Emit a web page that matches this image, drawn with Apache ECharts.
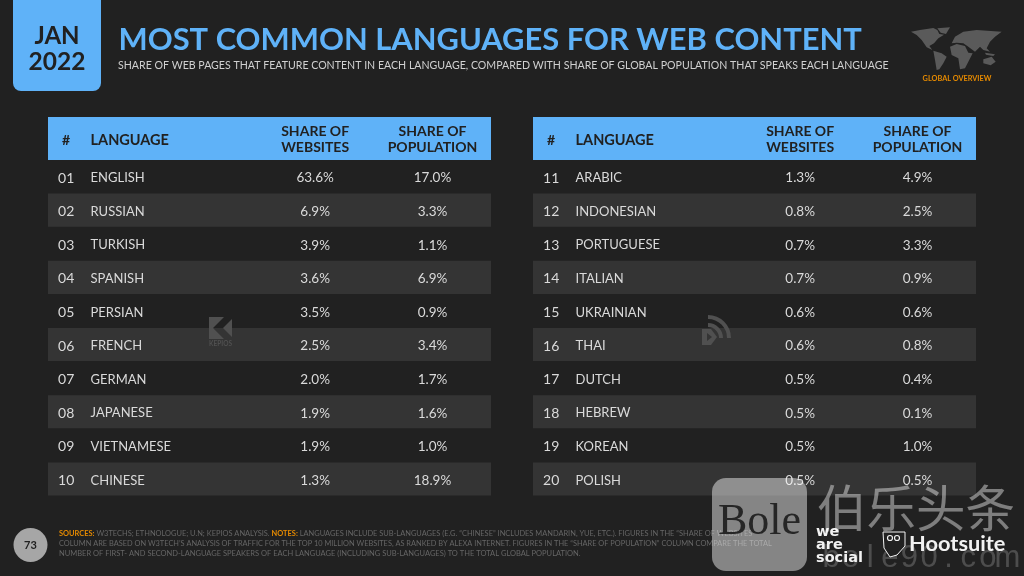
<!DOCTYPE html>
<html>
<head>
<meta charset="utf-8">
<style>html,body{margin:0;padding:0;background:#212121}#main{width:1024px;height:576px}</style>
<script src="https://cdn.jsdelivr.net/npm/echarts@6/dist/echarts.min.js"></script>
</head>
<body>
<div id="main"></div>
<script>
var columnHeaders = ['#', 'LANGUAGE', 'SHARE OF\nWEBSITES', 'SHARE OF\nPOPULATION'];
var ranksLeft = ['01', '02', '03', '04', '05', '06', '07', '08', '09', '10'];
var languagesLeft = ['ENGLISH', 'RUSSIAN', 'TURKISH', 'SPANISH', 'PERSIAN', 'FRENCH', 'GERMAN', 'JAPANESE', 'VIETNAMESE', 'CHINESE'];
var websitesLeft = [63.6, 6.9, 3.9, 3.6, 3.5, 2.5, 2.0, 1.9, 1.9, 1.3];
var populationLeft = [17.0, 3.3, 1.1, 6.9, 0.9, 3.4, 1.7, 1.6, 1.0, 18.9];
var ranksRight = ['11', '12', '13', '14', '15', '16', '17', '18', '19', '20'];
var languagesRight = ['ARABIC', 'INDONESIAN', 'PORTUGUESE', 'ITALIAN', 'UKRAINIAN', 'THAI', 'DUTCH', 'HEBREW', 'KOREAN', 'POLISH'];
var websitesRight = [1.3, 0.8, 0.7, 0.7, 0.6, 0.6, 0.5, 0.5, 0.5, 0.5];
var populationRight = [4.9, 2.5, 3.3, 0.9, 0.6, 0.8, 0.4, 0.1, 1.0, 0.5];

var FONT = 'Lato';
var BLUE = '#5FB2F8';
var DARK = '#212121';
var BAND = '#343434';
var TEXT = '#DADADA';
var ORANGE = '#E58A00';
var FOOT = '#666666';
var MARK = '#505050';

// column centres as a share of the table width
var colRank = 0.041, colLang = 0.096, colSites = 0.603, colPop = 0.868;

function tableSeries(idx, ranks, langs, sites, pops) {
    return {
        type: 'custom',
        xAxisIndex: idx,
        yAxisIndex: idx,
        silent: true,
        z: 2,
        data: ranks.map(function (r, i) { return [i, sites[i], pops[i]]; }),
        renderItem: function (params, api) {
            var i = api.value(0);
            var rect = params.coordSys;
            var y = api.coord([0, i])[1];
            var h = api.size([0, 1])[1];
            var kids = [];
            if (i % 2 === 1) {
                kids.push({ type: 'rect', shape: { x: rect.x, y: y - h / 2, width: rect.width, height: h - 0.5 }, style: { fill: BAND } });
            }
            function cell(share, str, align, size) {
                kids.push({
                    type: 'text',
                    style: {
                        x: rect.x + rect.width * share, y: y + 1.3, text: str, fill: TEXT,
                        font: size + 'px ' + FONT, align: align, verticalAlign: 'middle'
                    }
                });
            }
            cell(colRank, ranks[i], 'center', 14);
            cell(colLang, langs[i], 'left', 13);
            cell(colSites, api.value(1).toFixed(1) + '%', 'center', 13.5);
            cell(colPop, api.value(2).toFixed(1) + '%', 'center', 13.5);
            return { type: 'group', children: kids };
        }
    };
}

function headerGraphics(left, width) {
    var items = [{ type: 'rect', z: 1, shape: { x: left, y: 117, width: width, height: 43 }, style: { fill: BLUE } }];
    var shares = [colRank, colLang, colSites, colPop];
    columnHeaders.forEach(function (h, i) {
        items.push({
            type: 'text',
            z: 3,
            style: {
                x: left + width * shares[i], y: i < 2 ? 140 : 139.5, text: h, fill: DARK,
                font: 'bold ' + (i === 1 ? 14.5 : 14) + 'px ' + FONT, lineHeight: 16,
                align: i === 1 ? 'left' : 'center', verticalAlign: 'middle'
            }
        });
    });
    return items;
}

// rough world map, points are in zoomed-crop units
function mapShape(points) {
    return {
        type: 'polygon',
        z: 1,
        shape: { points: points.map(function (p) { return [900 + p[0] / 3, 20 + p[1] / 3]; }) },
        style: { fill: '#5A5A5A' }
    };
}
var worldMap = [
    [[33, 35], [60, 30], [100, 24], [112, 30], [118, 42], [132, 44], [115, 55], [102, 70], [88, 78], [97, 90], [80, 82], [65, 60], [50, 45]],
    [[112, 25], [150, 22], [138, 42], [122, 38]],
    [[100, 92], [125, 100], [140, 110], [130, 130], [118, 148], [110, 150], [105, 120]],
    [[150, 80], [170, 72], [195, 78], [205, 98], [218, 100], [205, 125], [195, 145], [180, 148], [175, 115], [155, 105]],
    [[155, 70], [165, 50], [190, 35], [230, 30], [305, 35], [285, 50], [270, 65], [260, 85], [270, 95], [250, 90], [240, 80], [225, 95], [205, 80], [190, 70], [170, 68]],
    [[250, 118], [275, 110], [287, 125], [272, 136], [250, 130]],
    [[255, 98], [285, 103], [280, 108], [258, 104]]
];

var chrome = [
    { type: 'rect', shape: { x: 13, y: -10, width: 88, height: 101, r: 8 }, style: { fill: BLUE } },
    { type: 'text', style: { x: 57, y: 36, text: 'JAN', fill: DARK, font: 'bold 24px ' + FONT, align: 'center', verticalAlign: 'middle' } },
    { type: 'text', style: { x: 57, y: 62, text: '2022', fill: DARK, font: 'bold 24.5px ' + FONT, align: 'center', verticalAlign: 'middle' } },
    { type: 'text', style: { x: 118.5, y: 40, text: 'MOST COMMON LANGUAGES FOR WEB CONTENT', fill: BLUE, font: 'bold 30.9px ' + FONT, verticalAlign: 'middle' } },
    { type: 'text', style: { x: 118, y: 65.5, text: 'SHARE OF WEB PAGES THAT FEATURE CONTENT IN EACH LANGUAGE, COMPARED WITH SHARE OF GLOBAL POPULATION THAT SPEAKS EACH LANGUAGE', fill: '#D0D0D0', font: '10.6px ' + FONT, verticalAlign: 'middle' } },
    { type: 'text', style: { x: 957, y: 79, text: 'GLOBAL OVERVIEW', fill: ORANGE, font: 'bold 7.3px ' + FONT, align: 'center', verticalAlign: 'middle' } },
    { type: 'circle', shape: { cx: 30.5, cy: 545, r: 17 }, style: { fill: '#A6A6A6' } },
    { type: 'text', style: { x: 30.5, y: 545.5, text: '73', fill: DARK, font: 'bold 11px ' + FONT, align: 'center', verticalAlign: 'middle' } },
    // footer
    { type: 'text', z: 3, style: {
        x: 59, y: 534, verticalAlign: 'middle',
        text: '{o|SOURCES:} W3TECHS; ETHNOLOGUE; U.N; KEPIOS ANALYSIS. {o|NOTES:} LANGUAGES INCLUDE SUB-LANGUAGES (E.G. \u201CCHINESE\u201D INCLUDES MANDARIN, YUE, ETC.). FIGURES IN THE \u201CSHARE OF WEBSITES\u201D',
        fill: FOOT, font: '7.45px ' + FONT,
        rich: { o: { fill: ORANGE, font: 'bold 7.45px ' + FONT } }
    } },
    { type: 'text', z: 3, style: { x: 59, y: 544, verticalAlign: 'middle', text: 'COLUMN ARE BASED ON W3TECH\u2019S ANALYSIS OF TRAFFIC FOR THE TOP 10 MILLION WEBSITES, AS RANKED BY ALEXA INTERNET. FIGURES IN THE \u201CSHARE OF POPULATION\u201D COLUMN COMPARE THE TOTAL', fill: FOOT, font: '7.4px ' + FONT } },
    { type: 'text', z: 3, style: { x: 59, y: 554, verticalAlign: 'middle', text: 'NUMBER OF FIRST- AND SECOND-LANGUAGE SPEAKERS OF EACH LANGUAGE (INCLUDING SUB-LANGUAGES) TO THE TOTAL GLOBAL POPULATION.', fill: FOOT, font: '7.5px ' + FONT } },
    // kepios mark
    { type: 'polygon', z: 3, shape: { points: [[209, 317], [224, 317], [213, 328], [224, 339], [209, 339]] }, style: { fill: MARK } },
    { type: 'polygon', z: 3, shape: { points: [[232, 319], [232, 337], [223, 328]] }, style: { fill: MARK } },
    { type: 'text', z: 3, style: { x: 220.5, y: 344, text: 'KEPIOS', fill: MARK, font: 'bold 6.5px ' + FONT, align: 'center', verticalAlign: 'middle' } },
    // datareportal mark
    { type: 'polygon', z: 3, shape: { points: [[702, 329], [711, 329], [717, 337], [711, 345], [702, 345]] }, style: { fill: MARK } },
    { type: 'polygon', z: 3, shape: { points: [[707, 333], [712, 337], [707, 341]] }, style: { fill: BAND } },
    { type: 'arc', z: 3, shape: { cx: 708, cy: 338, r: 13, startAngle: -Math.PI / 2, endAngle: 0 }, style: { stroke: MARK, lineWidth: 4, fill: null } },
    { type: 'arc', z: 3, shape: { cx: 708, cy: 338, r: 21, startAngle: -Math.PI / 2, endAngle: 0 }, style: { stroke: MARK, lineWidth: 4, fill: null } },
    // brand logos
    { type: 'text', z: 4, style: { x: 816, y: 532, text: 'we', fill: '#F2F2F2', font: 'bold 14.5px "DejaVu Sans"', verticalAlign: 'middle' } },
    { type: 'text', z: 4, style: { x: 816, y: 545, text: 'are', fill: '#F2F2F2', font: 'bold 14.5px "DejaVu Sans"', verticalAlign: 'middle' } },
    { type: 'text', z: 4, style: { x: 816, y: 558, text: 'social', fill: '#F2F2F2', font: 'bold 14.5px "DejaVu Sans"', verticalAlign: 'middle' } },
    { type: 'polygon', z: 4, shape: { points: [[883, 532], [905, 532], [905, 546], [897, 555], [890, 557], [884, 548]] }, style: { fill: DARK, stroke: '#F2F2F2', lineWidth: 1 } },
    { type: 'circle', z: 4, shape: { cx: 890, cy: 538, r: 2.5 }, style: { fill: DARK, stroke: '#F2F2F2', lineWidth: 1.2 } },
    { type: 'circle', z: 4, shape: { cx: 897, cy: 538, r: 2.5 }, style: { fill: DARK, stroke: '#F2F2F2', lineWidth: 1.2 } },
    { type: 'text', z: 4, style: { x: 909, y: 544, text: 'Hootsuite', fill: '#F2F2F2', font: 'bold 21.8px ' + FONT, verticalAlign: 'middle' } },
    // bole watermark sits on top of the page
    { type: 'rect', z: 5, shape: { x: 712, y: 478, width: 95, height: 93, r: 14 }, style: { fill: 'rgba(255,255,255,0.45)' } },
    { type: 'text', z: 6, style: { x: 759.5, y: 522, text: 'Bole', fill: '#262626', font: '44px "Liberation Serif"', align: 'center', verticalAlign: 'middle' } },
    { type: 'text', z: 5, style: { x: 817, y: 508, text: '\u4F2F\u4E50\u5934\u6761', fill: 'rgba(255,255,255,0.42)', font: '49.5px "Noto Sans CJK SC"', verticalAlign: 'middle' } }
];

// watermark url is spaced wider than any installed font sets it
'bole90.com'.split('').forEach(function (ch, i) {
    chrome.push({ type: 'text', z: 3, style: { x: 831 + i * 19.6, y: 558, text: ch, fill: 'rgba(255,255,255,0.2)', font: '31px "Liberation Sans"', align: 'center', verticalAlign: 'middle' } });
});

var option = {
    backgroundColor: DARK,
    animation: false,
    grid: [
        { left: 48, top: 160, width: 443, height: 336 },
        { left: 533, top: 160, width: 443, height: 336 }
    ],
    xAxis: [
        { type: 'value', gridIndex: 0, show: false },
        { type: 'value', gridIndex: 1, show: false }
    ],
    yAxis: [
        { type: 'category', gridIndex: 0, show: false, inverse: true, data: ranksLeft },
        { type: 'category', gridIndex: 1, show: false, inverse: true, data: ranksRight }
    ],
    series: [
        tableSeries(0, ranksLeft, languagesLeft, websitesLeft, populationLeft),
        tableSeries(1, ranksRight, languagesRight, websitesRight, populationRight)
    ],
    graphic: { elements: chrome.concat(worldMap.map(mapShape), headerGraphics(48, 443), headerGraphics(533, 443)) }
};

var myChart = echarts.init(document.getElementById('main'));
myChart.setOption(option);
</script>
</body>
</html>
